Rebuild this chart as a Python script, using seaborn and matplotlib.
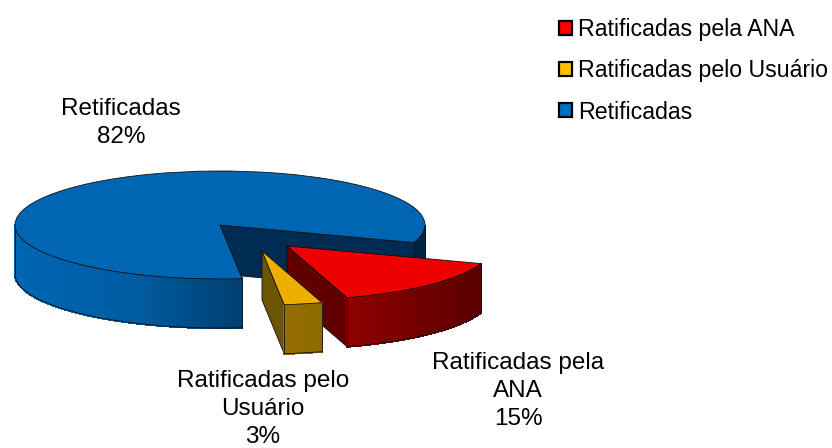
import numpy as np
import matplotlib
matplotlib.use("Agg")
import matplotlib.pyplot as plt
import matplotlib.transforms as mtrans
from matplotlib.patches import Polygon, Patch
import seaborn as sns

# Data
labels = ["Ratificadas pela ANA", "Ratificadas pelo Usuário", "Retificadas"]
values = [15, 3, 82]
slice_texts = ["Ratificadas pela\nANA\n15%", "Ratificadas pelo\nUsuário\n3%", "Retificadas\n82%"]

# Style and layout
W, H = 832, 448
top_colors = sns.color_palette(["#EE0000", "#EEB000", "#0066B3"])
wall_colors = ["#600000", "#6B5500", "#002B52"]
legend_colors = ["#FF0000", "#FFC000", "#0070C0"]
apex_px = [(287, 246), (262, 251), (220, 225)]
text_px = [(518, 391), (263, 409), (121, 123)]
RX, RY, DEPTH_PX = 205.0, 54.0, 49.0
CX, CY = 220.0, 225.0
START = -19

sns.set_theme(style="white")
plt.rcParams["font.family"] = ["Liberation Sans", "DejaVu Sans"]

fig = plt.figure(figsize=(W / 100, H / 100), dpi=100, facecolor="white")
ax = fig.add_axes([0, 0, 1, 1])
wedges, _ = ax.pie(values, startangle=START, counterclock=False, colors=top_colors,
                   wedgeprops=dict(edgecolor="#101010", linewidth=0.6))
ax.set_aspect("auto")
ax.set_xlim(-CX / RX, (W - CX) / RX)
ax.set_ylim(-(H - CY) / RY, CY / RY)
ax.axis("off")
depth = DEPTH_PX / RY


def to_data(p):
    return ((p[0] - CX) / RX, (CY - p[1]) / RY)


def brightness(c):
    t = (c + 1) / 2
    return np.interp(t, [0, 0.3, 0.55, 0.65, 0.97, 1], [1, 0.9, 0.63, 0.6, 0.38, 0.36])


def draw_side(idx, z):
    w = wedges[idx]
    cx, cy = to_data(apex_px[idx])
    w.set_center((cx, cy))
    th = np.arange(w.theta1, w.theta2, 0.5)
    th = np.append(th, w.theta2)
    rad = np.radians(th)
    vis = np.sin(rad) <= 0
    base = np.array(top_colors[idx])
    # cut face that looks towards the viewer
    a = np.radians(w.theta1)
    p = (cx + np.cos(a), cy + np.sin(a))
    ax.add_patch(Polygon([(cx, cy), p, (p[0], p[1] - depth), (cx, cy - depth)], closed=True,
                         facecolor=wall_colors[idx], edgecolor="#101010", linewidth=0.6, zorder=z))
    # outer rim
    for i in range(len(th) - 1):
        if not (vis[i] and vis[i + 1]):
            continue
        xs = cx + np.cos(rad[i:i + 2])
        ys = cy + np.sin(rad[i:i + 2])
        col = np.clip(base * brightness(np.cos(rad[i:i + 2].mean())), 0, 1)
        ax.add_patch(Polygon([(xs[0], ys[0]), (xs[1], ys[1]), (xs[1], ys[1] - depth), (xs[0], ys[0] - depth)],
                             closed=True, facecolor=col, edgecolor=col, linewidth=1.0,
                             antialiased=False, zorder=z + 0.1))
    # rim outlines
    breaks = np.where(np.diff(vis.astype(int)) != 0)[0]
    segs = np.split(np.arange(len(th)), breaks + 1)
    for s in segs:
        if not vis[s[0]]:
            continue
        xs = cx + np.cos(rad[s])
        ys = cy + np.sin(rad[s])
        ax.plot(xs, ys - depth, color="#101010", lw=0.6, zorder=z + 0.2)
        ax.plot([xs[0], xs[0]], [ys[0], ys[0] - depth], color="#101010", lw=0.6, zorder=z + 0.2)
        ax.plot([xs[-1], xs[-1]], [ys[-1], ys[-1] - depth], color="#101010", lw=0.6, zorder=z + 0.2)
    w.set_zorder(z + 0.3)


draw_side(2, 2)
draw_side(0, 3)
draw_side(1, 4)

px = mtrans.Affine2D().scale(1 / W, -1 / H).translate(0, 1) + fig.transFigure
for t, (x, y) in zip(slice_texts, text_px):
    ax.text(x, y, t, transform=px, ha="center", va="center", fontsize=17.5, color="black",
            linespacing=1.36, clip_on=True)

handles = [Patch(facecolor=c, edgecolor="black", linewidth=1.6) for c in legend_colors]
leg = fig.legend(handles, labels, loc="upper left", bbox_to_anchor=(552 / W, 1 - 11 / H), frameon=False,
                 fontsize=16.7, labelcolor="black", handlelength=0.56, handleheight=0.56, handletextpad=0.26,
                 labelspacing=0.79, borderpad=0.3, borderaxespad=0)

fig.savefig("out.png", dpi=100, facecolor="white")
